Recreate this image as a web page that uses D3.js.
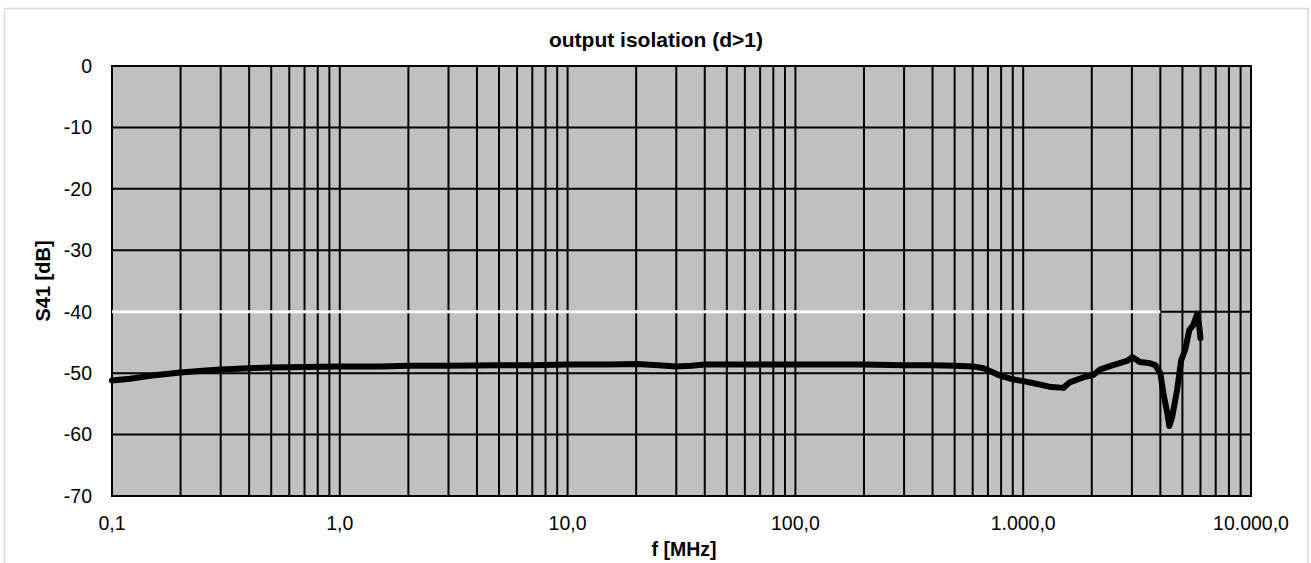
<!DOCTYPE html>
<html>
<head>
<meta charset="utf-8">
<script src="https://cdn.jsdelivr.net/npm/d3@7"></script>
<style>
    html, body { margin: 0; padding: 0; background: #fff; }
    svg { display: block; font-family: "Liberation Sans", Arial, sans-serif; }
</style>
</head>
<body>
<div id="chart"></div>
<script>
const freqMHz = [0.1, 0.12, 0.15, 0.2, 0.25, 0.3, 0.4, 0.5, 0.7, 1, 1.5, 2, 3, 5, 7, 10, 15, 20, 25, 30, 35, 40, 50, 70, 100, 150, 200, 300, 400, 500, 600, 670, 790, 900, 1000, 1100, 1300, 1500, 1600, 1830, 2030, 2180, 2480, 2860, 3010, 3260, 3610, 3800, 4000, 4120, 4290, 4380, 4510, 4740, 4940, 5140, 5360, 5570, 5810, 5930, 6000];
const s41 = [-51.2, -50.9, -50.4, -49.9, -49.6, -49.4, -49.2, -49.1, -49.0, -48.9, -48.9, -48.8, -48.8, -48.7, -48.7, -48.6, -48.6, -48.5, -48.7, -48.9, -48.8, -48.6, -48.6, -48.6, -48.6, -48.6, -48.6, -48.7, -48.7, -48.8, -48.9, -49.2, -50.4, -51.0, -51.3, -51.6, -52.2, -52.4, -51.5, -50.7, -50.3, -49.4, -48.7, -48.0, -47.4, -48.2, -48.4, -48.7, -50.0, -53.2, -56.5, -58.6, -57.1, -52.7, -47.9, -46.2, -43.0, -42.2, -40.3, -42.5, -44.3];

// white reference line
const limitFreq = [0.1, 4000];
const limitDb = [-40, -40];

const yTicks = [0, -10, -20, -30, -40, -50, -60, -70];
const xDecades = [0.1, 1, 10, 100, 1000, 10000];

const title = 'output isolation (d>1)';
const xTitle = 'f [MHz]';
const yTitle = 'S41 [dB]';

const width = 1311;
const height = 563;
const plot = { left: 112, top: 66, right: 1251, bottom: 496 };

const de = d3.formatLocale({ decimal: ',', thousands: '.', grouping: [3], currency: ['', ' €'] });
const fmt = de.format(',.1f');

const svg = d3.select('#chart').append('svg')
    .attr('width', width)
    .attr('height', height);

svg.append('rect')
    .attr('x', 4.5).attr('y', 8.5)
    .attr('width', 1303.5).attr('height', 600)
    .attr('fill', '#fff')
    .attr('stroke', '#d9d9d9')
    .attr('stroke-width', 1.5);

const x = d3.scaleLog().domain([0.1, 10000]).range([plot.left, plot.right]);
const y = d3.scaleLinear().domain([-70, 0]).range([plot.bottom, plot.top]);

svg.append('rect')
    .attr('x', plot.left).attr('y', plot.top)
    .attr('width', plot.right - plot.left)
    .attr('height', plot.bottom - plot.top)
    .attr('fill', '#c0c0c0');

// grid: every 1..9 per decade, every 10 dB
const minor = [];
xDecades.slice(0, -1).forEach(d => {
    for (let k = 1; k < 10; k++) minor.push(d * k);
});
minor.push(10000);

const grid = svg.append('g').attr('stroke', '#000').attr('stroke-width', 2);

grid.selectAll('line.v').data(minor).enter().append('line')
    .attr('class', 'v')
    .attr('x1', d => x(d)).attr('x2', d => x(d))
    .attr('y1', plot.top).attr('y2', plot.bottom);

grid.selectAll('line.h').data(yTicks).enter().append('line')
    .attr('class', 'h')
    .attr('x1', plot.left).attr('x2', plot.right)
    .attr('y1', d => y(d)).attr('y2', d => y(d));

svg.append('rect')
    .attr('x', plot.left).attr('y', plot.top)
    .attr('width', plot.right - plot.left)
    .attr('height', plot.bottom - plot.top)
    .attr('fill', 'none')
    .attr('stroke', '#000')
    .attr('stroke-width', 2);

const line = d3.line()
    .x(d => x(d[0]))
    .y(d => y(d[1]));

svg.append('path')
    .datum(d3.zip(limitFreq, limitDb))
    .attr('d', line)
    .attr('fill', 'none')
    .attr('stroke', '#fff')
    .attr('stroke-width', 3);

svg.append('path')
    .datum(d3.zip(freqMHz, s41))
    .attr('d', line)
    .attr('fill', 'none')
    .attr('stroke', '#000')
    .attr('stroke-width', 6)
    .attr('stroke-linejoin', 'round')
    .attr('stroke-linecap', 'round');

// tick labels
svg.append('g').selectAll('text').data(yTicks).enter().append('text')
    .attr('x', 92)
    .attr('y', d => y(d))
    .attr('dy', '0.35em')
    .attr('text-anchor', 'end')
    .attr('font-size', 19.5)
    .text(d => d);

svg.append('g').selectAll('text').data(xDecades).enter().append('text')
    .attr('x', d => x(d))
    .attr('y', 530)
    .attr('text-anchor', 'middle')
    .attr('font-size', 19.5)
    .text(d => fmt(d));

svg.append('text')
    .attr('x', 656).attr('y', 47)
    .attr('text-anchor', 'middle')
    .attr('font-size', 21)
    .attr('font-weight', 'bold')
    .text(title);

svg.append('text')
    .attr('x', 684).attr('y', 556)
    .attr('text-anchor', 'middle')
    .attr('font-size', 19.5)
    .attr('font-weight', 'bold')
    .text(xTitle);

svg.append('text')
    .attr('transform', `translate(50,${(plot.top + plot.bottom) / 2}) rotate(-90)`)
    .attr('text-anchor', 'middle')
    .attr('font-size', 20)
    .attr('font-weight', 'bold')
    .text(yTitle);
</script>
</body>
</html>
